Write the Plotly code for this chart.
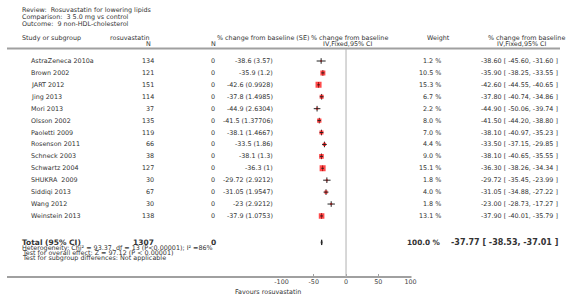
import plotly.graph_objects as go

# ---------------- data ----------------
studies = ["AstraZeneca 2010a", "Brown 2002", "JART 2012", "Jing 2013", "Mori 2013",
           "Olsson 2002", "Paoletti 2009", "Rosenson 2011", "Schneck 2003", "Schwartz 2004",
           "SHUKRA  2009", "Siddiqi 2013", "Wang 2012", "Weinstein 2013"]
n_rosu = [134, 121, 151, 114, 37, 135, 119, 66, 38, 127, 30, 67, 30, 138]
n_ctrl = [0] * 14
mean_change = [-38.6, -35.9, -42.6, -37.8, -44.9, -41.5, -38.1, -33.5, -38.1, -36.3,
               -29.72, -31.05, -23, -37.9]
se_text = ["3.57", "1.2", "0.9928", "1.4985", "2.6304", "1.37706", "1.4667", "1.86",
           "1.3", "1", "2.9212", "1.9547", "2.9212", "1.0753"]
weights = [1.2, 10.5, 15.3, 6.7, 2.2, 8.0, 7.0, 4.4, 9.0, 15.1, 1.8, 4.0, 1.8, 13.1]
ci_low = [-45.60, -38.25, -44.55, -40.74, -50.06, -44.20, -40.97, -37.15, -40.65, -38.26,
          -35.45, -34.88, -28.73, -40.01]
ci_high = [-31.60, -33.55, -40.65, -34.86, -39.74, -38.80, -35.23, -29.85, -35.55, -34.34,
           -23.99, -27.22, -17.27, -35.79]
total_n = 1307
total_ctrl = 0
total_est, total_lo, total_hi = -37.77, -38.53, -37.01
tick_vals = [-100, -50, 0, 50, 100]
tick_text = ["-100", "-50", "0", "50", "100"]

W, H = 566, 301
FONT = "DejaVu Sans"
TXT = "#333333"
GRID = "#a0a0a0"

rows = list(range(len(studies)))
ROW0_PX, ROW_STEP = 61.0, 11.92
AXIS_PX = 277.0
total_row = len(studies) + 1.22


def px_to_row(p):
    return (p - ROW0_PX) / ROW_STEP


fig = go.Figure()

# tick at point estimate (small "+" look)
fig.add_trace(go.Scatter(x=mean_change, y=rows, mode="markers",
                         marker=dict(symbol="line-ns", size=4, line=dict(width=1, color="#222")),
                         hoverinfo="skip", showlegend=False))
# weighted squares
fig.add_trace(go.Scatter(x=mean_change, y=rows, mode="markers",
                         marker=dict(symbol="square", color="#ff0000",
                                     size=[1.55 * w ** 0.5 for w in weights], line=dict(width=0)),
                         hoverinfo="skip", showlegend=False))
# CI lines
ci_x, ci_y = [], []
for lo, hi, r in zip(ci_low, ci_high, rows):
    ci_x += [lo, hi, None]
    ci_y += [r, r, None]
fig.add_trace(go.Scatter(x=ci_x, y=ci_y, mode="lines", line=dict(color="#222", width=1),
                         hoverinfo="skip", showlegend=False))
# total diamond
dh = 0.22
fig.add_trace(go.Scatter(x=[total_lo, total_est, total_hi, total_est, total_lo],
                         y=[total_row, total_row - dh, total_row, total_row + dh, total_row],
                         mode="lines", fill="toself", fillcolor="#222",
                         line=dict(color="#222", width=1), hoverinfo="skip", showlegend=False))

ann = []


def text(t, xpx, y, anchor="left", size=6.4, bold=False, yref="paper", color=TXT):
    if bold:
        t = "<b>" + t + "</b>"
    ann.append(dict(text=t, x=xpx / W, xref="paper", y=(1 - y / H) if yref == "paper" else y,
                    yref=yref, xanchor=anchor, yanchor="middle", showarrow=False,
                    font=dict(family=FONT, size=size, color=color)))


# title block
text("Review:  Rosuvastatin for lowering lipids", 13, 10)
text("Comparison:  3 5.0 mg vs control", 13, 17)
text("Outcome:  9 non-HDL-cholesterol", 13, 24)

# column headers
text("Study or subgroup", 13, 38)
text("rosuvastatin", 126, 38, "center")
text("N", 145, 44, "center")
text("N", 211, 44, "center")
text("% change from baseline (SE)", 213, 38)
text("% change from baseline", 351, 38, "center")
text("IV,Fixed,95% CI", 349, 44, "center")
text("Weight", 442, 38, "center")
text("% change from baseline", 532, 38, "center")
text("IV,Fixed,95% CI", 527, 44, "center")

# study rows
for i, s in enumerate(studies):
    text(s, 23, i, "left", yref="y")
    text(str(n_rosu[i]), 153, i, "right", yref="y")
    text(str(n_ctrl[i]), 211, i, "center", yref="y")
    text(f"{mean_change[i]:g} ({se_text[i]})", 274, i, "right", yref="y")
    text(f"{weights[i]:.1f} %", 446, i, "right", yref="y")
    text(f"{mean_change[i]:.2f} [ {ci_low[i]:.2f}, {ci_high[i]:.2f} ]", 566, i, "right", yref="y")

# total row
text("Total (95% CI)", 13, total_row, "left", size=7.5, bold=True, yref="y")
text(str(total_n), 153, total_row, "right", size=7.5, bold=True, yref="y")
text(str(total_ctrl), 211, total_row, "center", size=7.5, bold=True, yref="y")
text("100.0 %", 446, total_row, "right", size=7.3, bold=True, yref="y")
text(f"{total_est:.2f} [ {total_lo:.2f}, {total_hi:.2f} ]", 566, total_row, "right",
     size=8, bold=True, yref="y")

text("Heterogeneity: Chi² = 93.37, df = 13 (P<0.00001); I² =86%", 13, 248)
text("Test for overall effect: Z = 97.12 (P < 0.00001)", 13, 253)
text("Test for subgroup differences: Not applicable", 13, 258)
text("Favours rosuvastatin", 303, 292, "right")

shapes = [
    # header rule
    dict(type="line", xref="paper", yref="paper", x0=0, x1=1, y0=1 - 48.5 / H, y1=1 - 48.5 / H,
         line=dict(color=GRID, width=2)),
    # bottom axis rule
    dict(type="line", xref="paper", yref="paper", x0=0, x1=414 / W, y0=1 - AXIS_PX / H,
         y1=1 - AXIS_PX / H, line=dict(color=GRID, width=2)),
    # zero line
    dict(type="line", xref="x", yref="paper", x0=0, x1=0, y0=1 - AXIS_PX / H, y1=1 - 49 / H,
         line=dict(color="#b0b0b0", width=1)),
]

fig.update_layout(
    width=W, height=H, margin=dict(l=0, r=0, t=0, b=0),
    paper_bgcolor="white", plot_bgcolor="white",
    annotations=ann, shapes=shapes,
    xaxis=dict(domain=[281 / W, 413 / W], range=[-100, 100], tickvals=tick_vals,
               ticktext=tick_text, ticks="inside", ticklen=3, tickcolor=GRID, tickwidth=1,
               showgrid=False, zeroline=False, showline=False,
               tickfont=dict(family=FONT, size=6.4, color="#444")),
    yaxis=dict(domain=[1 - AXIS_PX / H, 1], range=[px_to_row(AXIS_PX), px_to_row(0)],
               visible=False),
    font=dict(family=FONT),
)

fig.write_html("out.html", config={"displayModeBar": False},
               post_script="document.body.style.margin='0';document.body.style.padding='0';"
                           "document.body.style.overflow='hidden';")
